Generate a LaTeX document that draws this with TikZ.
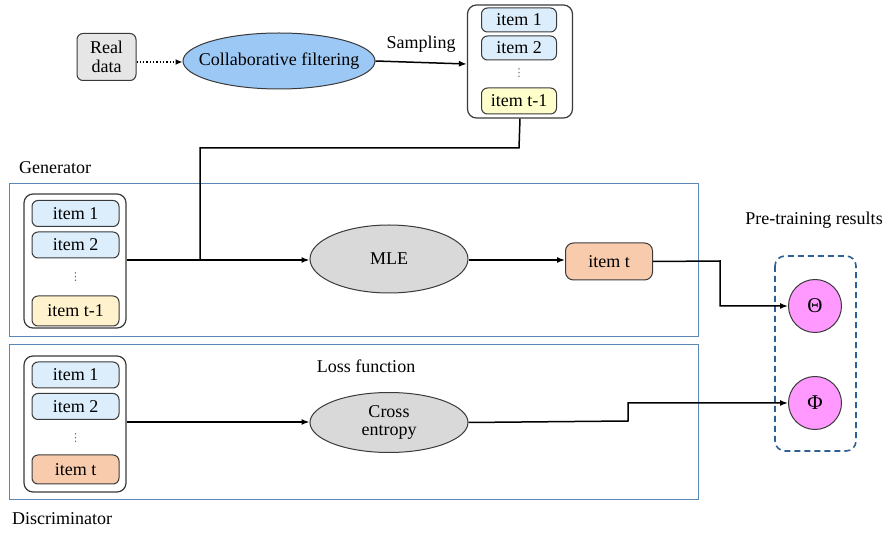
\documentclass[tikz,border=0pt]{standalone}
\usepackage{fontspec}
\setmainfont{Liberation Serif}
\newfontfamily\diagfont{Liberation Serif}
\newfontfamily\dotfont{DejaVu Sans}
\usetikzlibrary{shapes.geometric,arrows.meta}
\definecolor{realgray}{HTML}{E6E6E6}
\definecolor{cfblue}{HTML}{9CC8F5}
\definecolor{itemblue}{HTML}{DCEEFC}
\definecolor{itemyellow}{HTML}{FFFFCC}
\definecolor{itemcream}{HTML}{FFF2CC}
\definecolor{itemorange}{HTML}{F8CBAD}
\definecolor{ellgray}{HTML}{D9D9D9}
\definecolor{framecol}{HTML}{5B87B5}
\definecolor{dashblue}{HTML}{2E6096}
\definecolor{paramfill}{HTML}{FF99FF}
\definecolor{edgegray}{HTML}{3A3A3A}
\newcommand{\dfont}{\diagfont\fontsize{18}{20}\selectfont}
\tikzset{
  lbl/.style={font=\dfont, inner sep=0pt},
  itembox/.style={draw=edgegray, line width=1pt, rounded corners=6pt, minimum width=87pt, minimum height=26pt,
    inner sep=0pt, font=\dfont},
  stackbox/.style={draw=edgegray, line width=1.2pt, rounded corners=9pt, inner sep=0pt},
  ell/.style={ellipse, draw=edgegray, line width=1pt, inner sep=0pt, font=\dfont, align=center},
  frame/.style={draw=framecol, line width=0.9pt},
  conn/.style={line width=1.5pt, -{Latex[length=8pt,width=6pt]}},
  plain/.style={line width=1.5pt},
  param/.style={circle, draw=edgegray, line width=1pt, fill=paramfill, minimum size=53pt, inner sep=0pt,
    font=\diagfont\fontsize{21}{23}\selectfont},
  vdot/.style={inner sep=0pt, font=\dotfont\fontsize{11}{12}\selectfont, text=black!60}
}
\begin{document}
\begin{tikzpicture}[x=1pt,y=-1pt]
\useasboundingbox (0,0) rectangle (887,534);

% ---------- top: data source and sampling ----------
\node[draw=edgegray, line width=1pt, fill=realgray, rounded corners=6pt, minimum width=59pt, minimum height=47pt,
      inner sep=0pt, align=center, font=\dfont] (real) at (106.5,57) {Real\\[-1pt]data};
% zero-width box keeps the ellipse at its set size
\node[ell, fill=cfblue, minimum width=192pt, minimum height=56pt] (cf) at (279,61)
  {\makebox[0pt]{Collaborative filtering}};

\node[stackbox, minimum width=105pt, minimum height=113pt] (tstack) at (520,61.5) {};
\node[itembox, fill=itemblue, minimum width=75pt, minimum height=24pt] (t1) at (519,20) {item 1};
\node[itembox, fill=itemblue, minimum width=75pt, minimum height=24pt] (t2) at (519,48) {item 2};
\node[vdot] (tdots) at (519,73) {⋮};
\node[itembox, fill=itemyellow, minimum width=75pt, minimum height=26pt] (t3) at (519,101) {item t-1};

\draw[line width=1.3pt, dotted, -{Latex[length=7pt,width=6pt]}] (real.east |- 0,62) -- (cf.west |- 0,62);
\draw[conn] (cf.east) -- (tstack.west |- 0,64) node[lbl, midway, above=9pt] {Sampling};

% ---------- generator ----------
\node[lbl, anchor=west] (genlbl) at (19,168) {Generator};
\draw[frame] (9,183) rectangle (698,336);

\node[stackbox, minimum width=102pt, minimum height=134pt] (gstack) at (75,261) {};
\node[itembox, fill=itemblue] (g1) at (75.5,213.5) {item 1};
\node[itembox, fill=itemblue] (g2) at (75.5,245) {item 2};
\node[vdot] (gdots) at (75.5,277) {⋮};
\node[itembox, fill=itemcream, minimum height=30pt] (g3) at (75.5,311) {item t-1};

\node[ell, fill=ellgray, minimum width=158pt, minimum height=68pt] (mle) at (389,259) {MLE};
\node[itembox, fill=itemorange, minimum width=87pt, minimum height=37pt, rounded corners=8pt] (gt) at (609,261.5) {item t};

\coordinate (join) at (200,260);
\draw[conn] (gstack.east |- join) -- (mle.west |- join);
\draw[plain] (tstack.south) -- (519,148) -- (200,148) -- (join);
\draw[conn] (mle.east |- 0,260) -- (gt.west |- 0,260);

% ---------- discriminator ----------
\draw[frame] (9,344) rectangle (698,499);
\node[lbl, anchor=west] (dislbl) at (12,519) {Discriminator};

\node[stackbox, minimum width=102pt, minimum height=136pt] (dstack) at (75,424) {};
\node[itembox, fill=itemblue] (d1) at (75.5,375) {item 1};
\node[itembox, fill=itemblue] (d2) at (75.5,406.5) {item 2};
\node[vdot] (ddots) at (75.5,438) {⋮};
\node[itembox, fill=itemorange, minimum height=29pt] (d3) at (75.5,469.5) {item t};

\node[lbl] (losslbl) at (366,366) {Loss function};
\node[ell, fill=ellgray, minimum width=158pt, minimum height=60pt] (ce) at (389,422.5) {Cross\\[-2pt]entropy};
\draw[conn] (dstack.east |- 0,422) -- (ce.west |- 0,422);

% ---------- pre-training results ----------
\node[lbl] (prelbl) at (814,220) {Pre-training results};
\draw[dashblue, line width=1.6pt, dash pattern=on 6pt off 4pt, rounded corners=10pt]
  (775,256) rectangle (856,451);
\node[param] (theta) at (815,306) {Θ};
\node[param] (phi) at (815,403) {Φ};

\draw[conn] (gt.east) -- (720,261) -- (720,306) -- (theta.west);
\draw[conn] (ce.east) -- (628,421) -- (628,403) -- (phi.west);
\end{tikzpicture}
\end{document}
